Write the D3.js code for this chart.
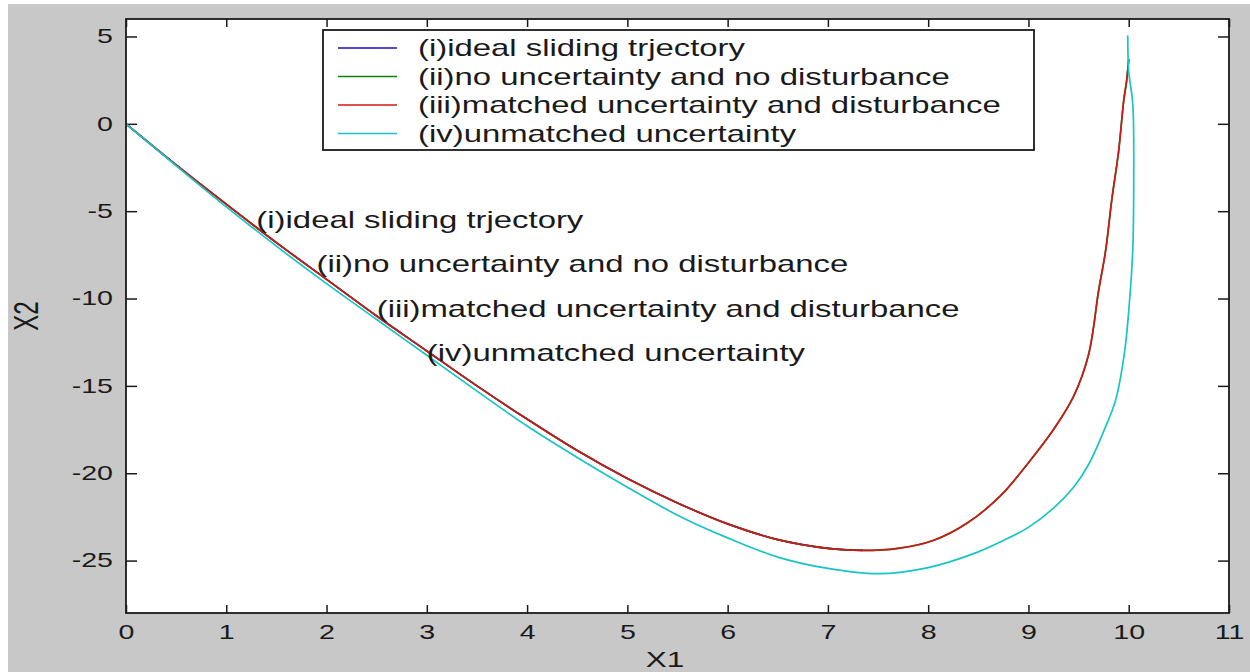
<!DOCTYPE html>
<html>
<head>
<meta charset="utf-8">
<script src="https://cdn.jsdelivr.net/npm/d3@7"></script>
<style>
  html, body { margin: 0; padding: 0; background: #fff; }
  svg { display: block; }
  text { font-family: "Liberation Sans", Arial, sans-serif; fill: #1a1a1a; }
</style>
</head>
<body>
<div id="chart"></div>
<script>
// legend / series names and colours
const seriesNames = [
  "(i)ideal sliding trjectory",
  "(ii)no uncertainty and no disturbance",
  "(iii)matched uncertainty and disturbance",
  "(iv)unmatched uncertainty"
];
const seriesColors = ["#1010c8", "#108010", "#d01818", "#18c4c4"];

// annotation positions (data coords, like matlab text(x,y,...))
const annotX = [1.3, 1.9, 2.5, 3.0];
const annotY = [-5.45, -8.0, -10.55, -13.05];

// phase trajectories (start -> origin)
const matchedX1 = [10.0, 9.98, 9.95, 9.9, 9.83, 9.77, 9.7, 9.6, 9.45, 9.25, 9.0, 8.72, 8.39, 8.05, 7.7, 7.35, 7.0, 6.5, 6.0, 5.5, 5.0, 4.5, 4.0, 3.5, 3.0, 2.5, 2.0, 1.5, 1.0, 0.5, 0];
const matchedX2 = [3.7, 2.5, 1.33, -1.53, -4.39, -7.25, -9.54, -13.2, -15.6, -17.5, -19.4, -21.3, -22.85, -23.85, -24.3, -24.42, -24.3, -23.8, -22.9, -21.7, -20.3, -18.7, -16.9, -15.0, -13.0, -11.0, -8.9, -6.8, -4.6, -2.35, 0];

const noDistX1 = [10.0, 9.98, 9.95, 9.9, 9.83, 9.77, 9.7, 9.6, 9.45, 9.25, 9.0, 8.72, 8.39, 8.05, 7.7, 7.35, 7.0, 6.5, 6.0, 5.5, 5.0, 4.5, 4.0, 3.5, 3.0, 2.5, 2.0, 1.5, 1.0, 0.5, 0];
const noDistX2 = [3.7, 2.5, 1.33, -1.53, -4.39, -7.25, -9.54, -13.2, -15.6, -17.5, -19.4, -21.3, -22.85, -23.85, -24.3, -24.42, -24.3, -23.8, -22.9, -21.7, -20.3, -18.7, -16.9, -15.0, -13.0, -11.0, -8.9, -6.8, -4.6, -2.35, 0];

const idealX1 = [7.35, 7.0, 6.5, 6.0, 5.5, 5.0, 4.5, 4.0, 3.5, 3.0, 2.5, 2.0, 1.5, 1.0, 0.5, 0];
const idealX2 = [-24.42, -24.3, -23.8, -22.9, -21.7, -20.3, -18.7, -16.9, -15.0, -13.0, -11.0, -8.9, -6.8, -4.6, -2.35, 0];

const unmatchedX1 = [9.99, 10.0, 10.04, 10.05, 10.04, 10.01, 9.96, 9.87, 9.75, 9.6, 9.45, 9.25, 9.0, 8.75, 8.5, 8.0, 7.5, 7.0, 6.5, 6.0, 5.5, 5.0, 4.5, 4.0, 3.5, 3.0, 2.5, 2.0, 1.5, 1.0, 0.5, 0];
const unmatchedX2 = [5.05, 3.0, 1.17, -3.0, -7.25, -10.0, -13.0, -15.8, -17.6, -19.5, -20.8, -22.0, -23.1, -23.85, -24.5, -25.4, -25.75, -25.45, -24.8, -23.7, -22.4, -20.8, -19.1, -17.3, -15.3, -13.25, -11.2, -9.15, -7.0, -4.75, -2.4, 0];

const xTicks = [0, 1, 2, 3, 4, 5, 6, 7, 8, 9, 10, 11];
const yTicks = [-25, -20, -15, -10, -5, 0, 5];

const W = 1250, H = 672;
const SX = 1.43; // picture is stretched sideways, so is the text
const plotL = 126, plotR = 1229, plotT = 19, plotB = 613;

const svg = d3.select("#chart").append("svg").attr("width", W).attr("height", H);

svg.append("rect").attr("x", 8).attr("y", 4).attr("width", W - 8).attr("height", H - 4).attr("fill", "#c8c8c8");
svg.append("rect").attr("x", plotL).attr("y", plotT).attr("width", plotR - plotL).attr("height", plotB - plotT).attr("fill", "#fff");

const x = d3.scaleLinear().domain([0, 11]).range([plotL, plotR]);
const y = d3.scaleLinear().domain([-28, 6]).range([plotB, plotT]);

// plain hyphen minus like matlab
const fmt = d => String(d);

// axes, matlab style ticks pointing inward on all four sides
const gx = svg.append("g").attr("transform", `translate(0,${plotB})`)
  .call(d3.axisBottom(x).tickValues(xTicks).tickFormat(fmt).tickSizeInner(-8).tickSizeOuter(0).tickPadding(12));
const gy = svg.append("g").attr("transform", `translate(${plotL},0)`)
  .call(d3.axisLeft(y).tickValues(yTicks).tickFormat(fmt).tickSizeInner(-11).tickSizeOuter(0).tickPadding(13));
svg.append("g").attr("transform", `translate(0,${plotT})`)
  .call(d3.axisTop(x).tickValues(xTicks).tickSizeInner(-8).tickSizeOuter(0).tickFormat(""));
svg.append("g").attr("transform", `translate(${plotR},0)`)
  .call(d3.axisRight(y).tickValues(yTicks).tickSizeInner(-11).tickSizeOuter(0).tickFormat(""));

svg.selectAll(".domain").remove();
svg.selectAll(".tick line").attr("stroke", "#1a1a1a").attr("stroke-width", 1.5);

gx.selectAll(".tick text")
  .attr("font-size", 20).attr("font-family", null)
  .attr("transform", function() { return `translate(0,${d3.select(this).attr("y")}) scale(${SX},1)`; })
  .attr("y", 0);
gy.selectAll(".tick text")
  .attr("font-size", 20).attr("font-family", null)
  .attr("transform", function() { return `translate(${d3.select(this).attr("x")},0) scale(${SX},1)`; })
  .attr("x", 0);

// lines
const line = d3.line().curve(d3.curveCatmullRom.alpha(0.5)).x(d => x(d[0])).y(d => y(d[1]));
const allSeries = [
  d3.zip(idealX1, idealX2),
  d3.zip(noDistX1, noDistX2),
  d3.zip(matchedX1, matchedX2),
  d3.zip(unmatchedX1, unmatchedX2)
];
svg.append("g").selectAll("path").data(allSeries).join("path")
  .attr("d", line)
  .attr("fill", "none")
  .attr("stroke", (d, i) => seriesColors[i])
  .attr("stroke-width", 1.7)
  .attr("stroke-linejoin", "round");

// frame
svg.append("rect").attr("x", plotL).attr("y", plotT).attr("width", plotR - plotL).attr("height", plotB - plotT)
  .attr("fill", "none").attr("stroke", "#1a1a1a").attr("stroke-width", 1.8);

// text annotations
svg.append("g").selectAll("text").data(seriesNames).join("text")
  .attr("transform", (d, i) => `translate(${x(annotX[i])},${y(annotY[i])}) scale(${SX},1)`)
  .attr("dy", "0.38em")
  .attr("font-size", 23)
  .text(d => d);

// legend
const leg = svg.append("g");
leg.append("rect").attr("x", 323).attr("y", 30).attr("width", 711).attr("height", 120)
  .attr("fill", "#fff").attr("stroke", "#1a1a1a").attr("stroke-width", 1.8);
const rows = leg.selectAll("g.row").data(seriesNames).join("g")
  .attr("transform", (d, i) => `translate(338,${48 + i * 28.5})`);
rows.append("line").attr("x1", 0).attr("x2", 59).attr("y1", 0).attr("y2", 0)
  .attr("stroke", (d, i) => seriesColors[i]).attr("stroke-width", 1.7);
rows.append("text")
  .attr("transform", `translate(80,0) scale(${SX},1)`)
  .attr("dy", "0.36em")
  .attr("font-size", 23)
  .text(d => d);

// axis labels
svg.append("text")
  .attr("transform", `translate(665,667) scale(${SX},1)`)
  .attr("text-anchor", "middle").attr("font-size", 22).text("X1");
svg.append("text")
  .attr("transform", `translate(38,316) scale(${SX},1) rotate(-90)`)
  .attr("text-anchor", "middle").attr("font-size", 24).text("X2");
</script>
</body>
</html>
